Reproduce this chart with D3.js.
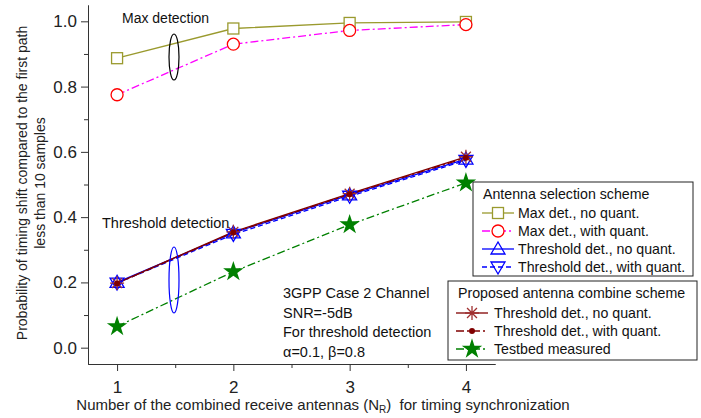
<!DOCTYPE html>
<html>
<head>
<meta charset="utf-8">
<script src="https://cdn.jsdelivr.net/npm/d3@7"></script>
<style>
  body { margin: 0; background: #fff; }
  svg { font-family: "Liberation Sans", Arial, sans-serif; }
</style>
</head>
<body>
<div id="plot"></div>
<script>
// data
var antennas = [1, 2, 3, 4];
var maxNoQuant   = [0.887, 0.978, 0.995, 0.998];
var maxQuant     = [0.775, 0.930, 0.972, 0.990];
var thrNoQuant   = [0.200, 0.352, 0.468, 0.578];
var thrQuant     = [0.198, 0.347, 0.464, 0.574];
var propNoQuant  = [0.198, 0.355, 0.472, 0.585];
var propQuant    = [0.197, 0.353, 0.470, 0.582];
var testbed      = [0.065, 0.233, 0.377, 0.505];

var yTicks = [0, 0.2, 0.4, 0.6, 0.8, 1.0];
var yMinor = [0.1, 0.3, 0.5, 0.7, 0.9];
var xMinor = [1.5, 2.5, 3.5];

var width = 701, height = 418;
var x_scale = d3.scaleLinear().domain([0.75, 4.25]).range([88, 495]);
var y_scale = d3.scaleLinear().domain([-0.05, 1.05]).range([364, 5]);

var svg = d3.select("#plot").append("svg")
  .attr("width", width).attr("height", height);

var dashDot = "8,3,2,3";
var series = [
  {name: "Max det., no quant.", vals: maxNoQuant, color: "#9a9a2e", dash: null, marker: "square", mcol: "#9a9a2e"},
  {name: "Max det., with quant.", vals: maxQuant, color: "#ff00ff", dash: dashDot, marker: "circle", mcol: "#ff0000"},
  {name: "Threshold det., no quant.", vals: thrNoQuant, color: "#0000ff", dash: null, marker: "up", mcol: "#0000ff"},
  {name: "Threshold det., with quant.", vals: thrQuant, color: "#0000ff", dash: "5,3", marker: "down", mcol: "#0000ff"},
  {name: "Threshold det., no quant.", vals: propNoQuant, color: "#800000", dash: null, marker: "asterisk", mcol: "#a03030"},
  {name: "Threshold det., with quant.", vals: propQuant, color: "#800000", dash: dashDot, marker: "dot", mcol: "#800000"},
  {name: "Testbed measured", vals: testbed, color: "#008000", dash: dashDot, marker: "star", mcol: "#008000"}
];

// axes
svg.append("g")
  .attr("transform", "translate(88,0)")
  .call(d3.axisLeft(y_scale).tickValues(yMinor).tickSize(4).tickFormat("").tickSizeOuter(0));
var yAxis = svg.append("g")
  .attr("transform", "translate(88,0)")
  .call(d3.axisLeft(y_scale).tickValues(yTicks).tickSize(7).tickPadding(4)
    .tickFormat(d3.format(".1f")).tickSizeOuter(0));
svg.append("g")
  .attr("transform", "translate(0,364)")
  .call(d3.axisBottom(x_scale).tickValues(xMinor).tickSize(4).tickFormat("").tickSizeOuter(0));
var xAxis = svg.append("g")
  .attr("transform", "translate(0,364)")
  .call(d3.axisBottom(x_scale).tickValues(antennas).tickSize(7).tickPadding(10)
    .tickFormat(d3.format("d")).tickSizeOuter(0));
svg.selectAll(".tick text").attr("font-size", 17).attr("fill", "#222")
  .attr("font-family", "Liberation Sans, Arial, sans-serif");
svg.selectAll(".domain, .tick line").attr("stroke", "#333");

// axis titles
var yl = svg.append("text")
  .attr("transform", "translate(22,183) rotate(-90)")
  .attr("text-anchor", "middle").attr("font-size", 14).attr("fill", "#222");
yl.append("tspan").attr("x", 0).attr("dy", "0.35em").text("Probability of timing shift compared to the first path");
yl.append("tspan").attr("x", 0).attr("dy", "1.3em").text("less than 10 samples");

var xl = svg.append("text")
  .attr("x", 323).attr("y", 410).attr("xml:space", "preserve")
  .attr("text-anchor", "middle").attr("font-size", 15).attr("fill", "#222");
xl.append("tspan").text("Number of the combined receive antennas (N");
xl.append("tspan").attr("font-size", 10).attr("dy", 3).text("R");
xl.append("tspan").attr("dy", -3).text(")\u00a0\u00a0for timing synchronization");

// lines
var line = d3.line()
  .x(function (d, i) { return x_scale(antennas[i]); })
  .y(function (d) { return y_scale(d); });

function drawMarker(g, type, col, cx, cy) {
  if (type == "square") {
    g.append("rect").attr("x", cx - 5.5).attr("y", cy - 5.5).attr("width", 11).attr("height", 11)
      .attr("fill", "#fff").attr("stroke", col).attr("stroke-width", 1.3);
  } else if (type == "circle") {
    g.append("circle").attr("cx", cx).attr("cy", cy).attr("r", 6)
      .attr("fill", "#fff").attr("stroke", col).attr("stroke-width", 1.3);
  } else if (type == "up" || type == "down") {
    var s = type == "up" ? 1 : -1;
    var pts = [[cx, cy - 7 * s], [cx - 7, cy + 5 * s], [cx + 7, cy + 5 * s]];
    g.append("path").attr("d", "M" + pts.join("L") + "Z")
      .attr("fill", "none").attr("stroke", col).attr("stroke-width", 1.3);
  } else if (type == "asterisk") {
    var p = "";
    for (var k = 0; k < 4; k++) {
      var a = k * Math.PI / 4;
      p += "M" + (cx + 7 * Math.cos(a)) + "," + (cy + 7 * Math.sin(a)) +
           "L" + (cx - 7 * Math.cos(a)) + "," + (cy - 7 * Math.sin(a));
    }
    g.append("path").attr("d", p).attr("stroke", col).attr("stroke-width", 1.3);
  } else if (type == "dot") {
    g.append("circle").attr("cx", cx).attr("cy", cy).attr("r", 3).attr("fill", col);
  } else if (type == "star") {
    g.append("path").attr("d", d3.symbol().type(d3.symbolStar).size(130)())
      .attr("transform", "translate(" + cx + "," + cy + ")").attr("fill", col);
  }
}

series.forEach(function (s) {
  svg.append("path").datum(s.vals)
    .attr("d", line).attr("fill", "none")
    .attr("stroke", s.color).attr("stroke-width", 1.3)
    .attr("stroke-dasharray", s.dash);
});
series.forEach(function (s) {
  var g = svg.append("g");
  s.vals.forEach(function (v, i) {
    drawMarker(g, s.marker, s.mcol, x_scale(antennas[i]), y_scale(v));
  });
});

// annotations
svg.append("text").attr("x", 122).attr("y", 23).attr("font-size", 14).attr("fill", "#111").text("Max detection");
svg.append("ellipse").attr("cx", 174).attr("cy", 57).attr("rx", 5).attr("ry", 23)
  .attr("fill", "none").attr("stroke", "#000").attr("stroke-width", 1.2);
svg.append("text").attr("x", 102).attr("y", 228).attr("font-size", 14.5).attr("fill", "#111").text("Threshold detection");
svg.append("ellipse").attr("cx", 174).attr("cy", 280).attr("rx", 5).attr("ry", 33)
  .attr("fill", "none").attr("stroke", "#0000ff").attr("stroke-width", 1.2);

var notes = ["3GPP Case 2 Channel", "SNR=-5dB", "For threshold detection", "\u03b1=0.1, \u03b2=0.8"];
svg.selectAll(".note").data(notes).enter().append("text")
  .attr("x", 283).attr("y", function (d, i) { return 298 + i * 19.5; })
  .attr("font-size", 14.5).attr("fill", "#111").text(function (d) { return d; });

// legends
function legend(x0, y0, w, h, title, items, lx, tx, y1) {
  svg.append("rect").attr("x", x0).attr("y", y0).attr("width", w).attr("height", h)
    .attr("fill", "#fff").attr("stroke", "#222").attr("stroke-width", 1);
  svg.append("text").attr("x", x0 + 10).attr("y", y0 + 17).attr("font-size", 14.2).attr("fill", "#111").text(title);
  items.forEach(function (s, i) {
    var yy = y1 + i * 18;
    svg.append("line").attr("x1", x0 + lx).attr("x2", x0 + lx + 32).attr("y1", yy).attr("y2", yy)
      .attr("stroke", s.color).attr("stroke-width", 1.3).attr("stroke-dasharray", s.dash);
    drawMarker(svg.append("g"), s.marker, s.mcol, x0 + lx + 16, yy);
    svg.append("text").attr("x", x0 + tx).attr("y", yy + 5).attr("font-size", 14.2).attr("fill", "#111").text(s.name);
  });
}
legend(473, 182, 220, 94, "Antenna selection scheme", series.slice(0, 4), 9, 45, 213);
legend(448, 281, 249, 79, "Proposed antenna combine scheme", series.slice(4), 8, 46, 313);
</script>
</body>
</html>
